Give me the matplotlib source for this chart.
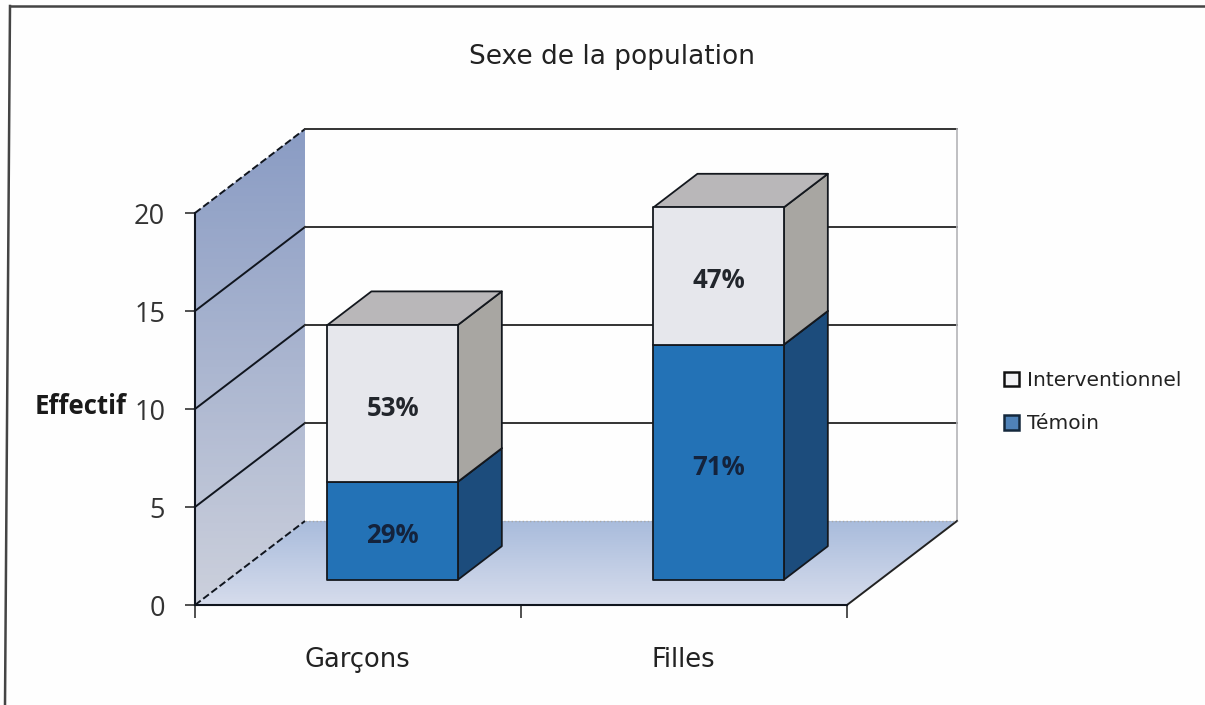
import matplotlib
matplotlib.use("Agg")
import matplotlib.pyplot as plt
import numpy as np
from matplotlib.lines import Line2D
from matplotlib.patches import Patch, Polygon

categories = ["Garçons", "Filles"]
temoin = [5, 12]
interventionnel = [8, 7]
temoin_labels = ["29%", "71%"]
interventionnel_labels = ["53%", "47%"]
y_ticks = [0, 5, 10, 15, 20]
title = "Sexe de la population"
y_label = "Effectif"

# oblique depth of the box, in x category units and y value units
DEPTH_X = 110 / 326
DEPTH_Y = 84 / 19.6
BAR_WIDTH = 0.4
BAR_NEAR = 0.3
BAR_FAR = 0.7
FONT = "Open Sans"
WIDE_FONT = "DejaVu Sans"


def project(x, y, depth=0.0):
    return x + depth * DEPTH_X, y + depth * DEPTH_Y


def face(ax, corners, color, zorder, lw=1.3):
    points = [project(*c) for c in corners]
    ax.add_patch(Polygon(points, closed=True, facecolor=color, edgecolor="#14181e",
                         linewidth=lw, joinstyle="round", clip_on=False, zorder=zorder))


def gradient(ax, corners, start, end, zorder):
    # vertical colour ramp clipped to a polygon
    points = np.array([project(*c) for c in corners])
    ramp = np.linspace(0, 1, 128)[:, None, None]
    colors = np.array(matplotlib.colors.to_rgb(start)) * (1 - ramp) + np.array(matplotlib.colors.to_rgb(end)) * ramp
    image = ax.imshow(colors, extent=(points[:, 0].min(), points[:, 0].max(), points[:, 1].min(), points[:, 1].max()),
                      origin="upper", aspect="auto", zorder=zorder)
    image.set_clip_box(ax.figure.bbox)
    image.set_clip_path(Polygon(points, closed=True, transform=ax.transData))


def box(ax, x_left, base, height, front, top, side, zorder):
    x_right = x_left + BAR_WIDTH
    low = base
    high = base + height
    face(ax, [(x_right, low, BAR_NEAR), (x_right, low, BAR_FAR), (x_right, high, BAR_FAR), (x_right, high, BAR_NEAR)],
         side, zorder)
    face(ax, [(x_left, high, BAR_NEAR), (x_right, high, BAR_NEAR), (x_right, high, BAR_FAR), (x_left, high, BAR_FAR)],
         top, zorder)
    face(ax, [(x_left, low, BAR_NEAR), (x_right, low, BAR_NEAR), (x_right, high, BAR_NEAR), (x_left, high, BAR_NEAR)],
         front, zorder + 0.1)


def bar_label(ax, x, y, text, color):
    point = project(x, y, BAR_NEAR)
    ax.annotate(text, point, xytext=(0, -5), textcoords="offset pixels", ha="center", va="center", fontsize=18.5,
                fontweight="bold", family=FONT, color=color, zorder=6, annotation_clip=False)


def main():
    fig = plt.figure(figsize=(12.05, 7.05), dpi=100, facecolor="#fefefe")
    ax = fig.add_axes([195 / 1205, 100 / 705, 652 / 1205, 392 / 705])
    ax.set_facecolor("none")

    # walls and floor
    gradient(ax, [(0, 0, 0), (0, 0, 1), (0, 20, 1), (0, 20, 0)], "#8a9cc4", "#ccd0dc", 1)
    gradient(ax, [(0, 0, 0), (2, 0, 0), (2, 0, 1), (0, 0, 1)], "#a9bcdc", "#d6dcec", 1)
    ax.set_xlim(0, 2)
    ax.set_ylim(0, 20)

    for value in y_ticks:
        near = project(0, value, 0)
        far = project(0, value, 1)
        end = project(2, value, 1)
        style = "--" if value in (0, 20) else "-"
        ax.plot([near[0], far[0]], [near[1], far[1]], color="#10151e", lw=1.4, ls=style, clip_on=False, zorder=2)
        if value > 0:
            ax.plot([far[0], end[0]], [far[1], end[1]], color="#333333", lw=1.4, clip_on=False, zorder=2)
    corner_low = project(2, 0, 1)
    corner_top = project(2, 20, 1)
    ax.plot([corner_low[0], corner_top[0]], [corner_low[1], corner_top[1]], color="#b4b4b8", lw=1.2, clip_on=False, zorder=2)
    corner_front = project(2, 0, 0)
    ax.plot([corner_front[0], corner_low[0]], [corner_front[1], corner_low[1]], color="#222222", lw=1.4, clip_on=False, zorder=2)
    back_left = project(0, 0, 1)
    ax.plot([back_left[0], corner_low[0]], [back_left[1], corner_low[1]], color="#a8a8a8", lw=1.0, ls=":", clip_on=False, zorder=2)

    # stacked boxes
    for i, category in enumerate(categories):
        x_left = i + 0.505 - BAR_WIDTH / 2
        box(ax, x_left, 0, temoin[i], "#2372b6", "#1f5d94", "#1c4c7c", 3 + i)
        box(ax, x_left, temoin[i], interventionnel[i], "#e6e7ec", "#b9b7b9", "#a8a6a2", 3.3 + i)
        bar_label(ax, x_left + BAR_WIDTH / 2, temoin[i] / 2, temoin_labels[i], "#14233c")
        bar_label(ax, x_left + BAR_WIDTH / 2, temoin[i] + interventionnel[i] / 2, interventionnel_labels[i], "#22262c")

    ax.set_xticks([0, 1, 2])
    ax.set_xticklabels([])
    ax.set_yticks(y_ticks)
    ax.set_yticklabels([str(v) for v in y_ticks], fontsize=19.5, family=FONT, color="#333333")
    ax.tick_params(axis="y", length=7.5, width=1.2, color="#333333", pad=14)
    ax.tick_params(axis="x", length=9, width=1.2, color="#333333")
    for side in ("top", "right"):
        ax.spines[side].set_visible(False)
    for side in ("left", "bottom"):
        ax.spines[side].set_color("#10151e")
        ax.spines[side].set_linewidth(1.5)
        ax.spines[side].set_zorder(7)

    for i, category in enumerate(categories):
        ax.annotate(category, (i + 0.5, 0), xytext=(-1, -62), textcoords="offset pixels", ha="center", va="baseline",
                    fontsize=18.5, family=WIDE_FONT, color="#222222", annotation_clip=False)

    fig.text(612 / 1205, 1 - 57 / 705, title, ha="center", va="center", fontsize=19, family=WIDE_FONT, color="#222222")
    fig.text(81 / 1205, 1 - 406 / 705, y_label, ha="center", va="center", fontsize=18.5, fontweight="bold",
             family=FONT, color="#1a1a1a")

    handles = [Patch(facecolor="#f2f2f4", edgecolor="#111111", linewidth=1.8),
               Patch(facecolor="#4f82b8", edgecolor="#14283c", linewidth=1.8)]
    fig.legend(handles, ["Interventionnel", "Témoin"], loc="upper left", bbox_to_anchor=(1004 / 1205, 1 - 371 / 705),
               frameon=False, handlelength=0.75, handleheight=0.75, handletextpad=0.4, labelspacing=1.2,
               prop={"family": WIDE_FONT, "size": 14.5}, labelcolor="#222222", borderpad=0, borderaxespad=0)

    # scanned frame, open on the right and at the bottom
    fig.add_artist(Line2D([10 / 1205, 1], [1 - 6 / 705, 1 - 6 / 705], color="#444444", lw=1.8))
    fig.add_artist(Line2D([10 / 1205, 5 / 1205], [1 - 6 / 705, 0], color="#444444", lw=1.8))

    fig.savefig("out.png", dpi=100, facecolor=fig.get_facecolor())


if __name__ == "__main__":
    main()
